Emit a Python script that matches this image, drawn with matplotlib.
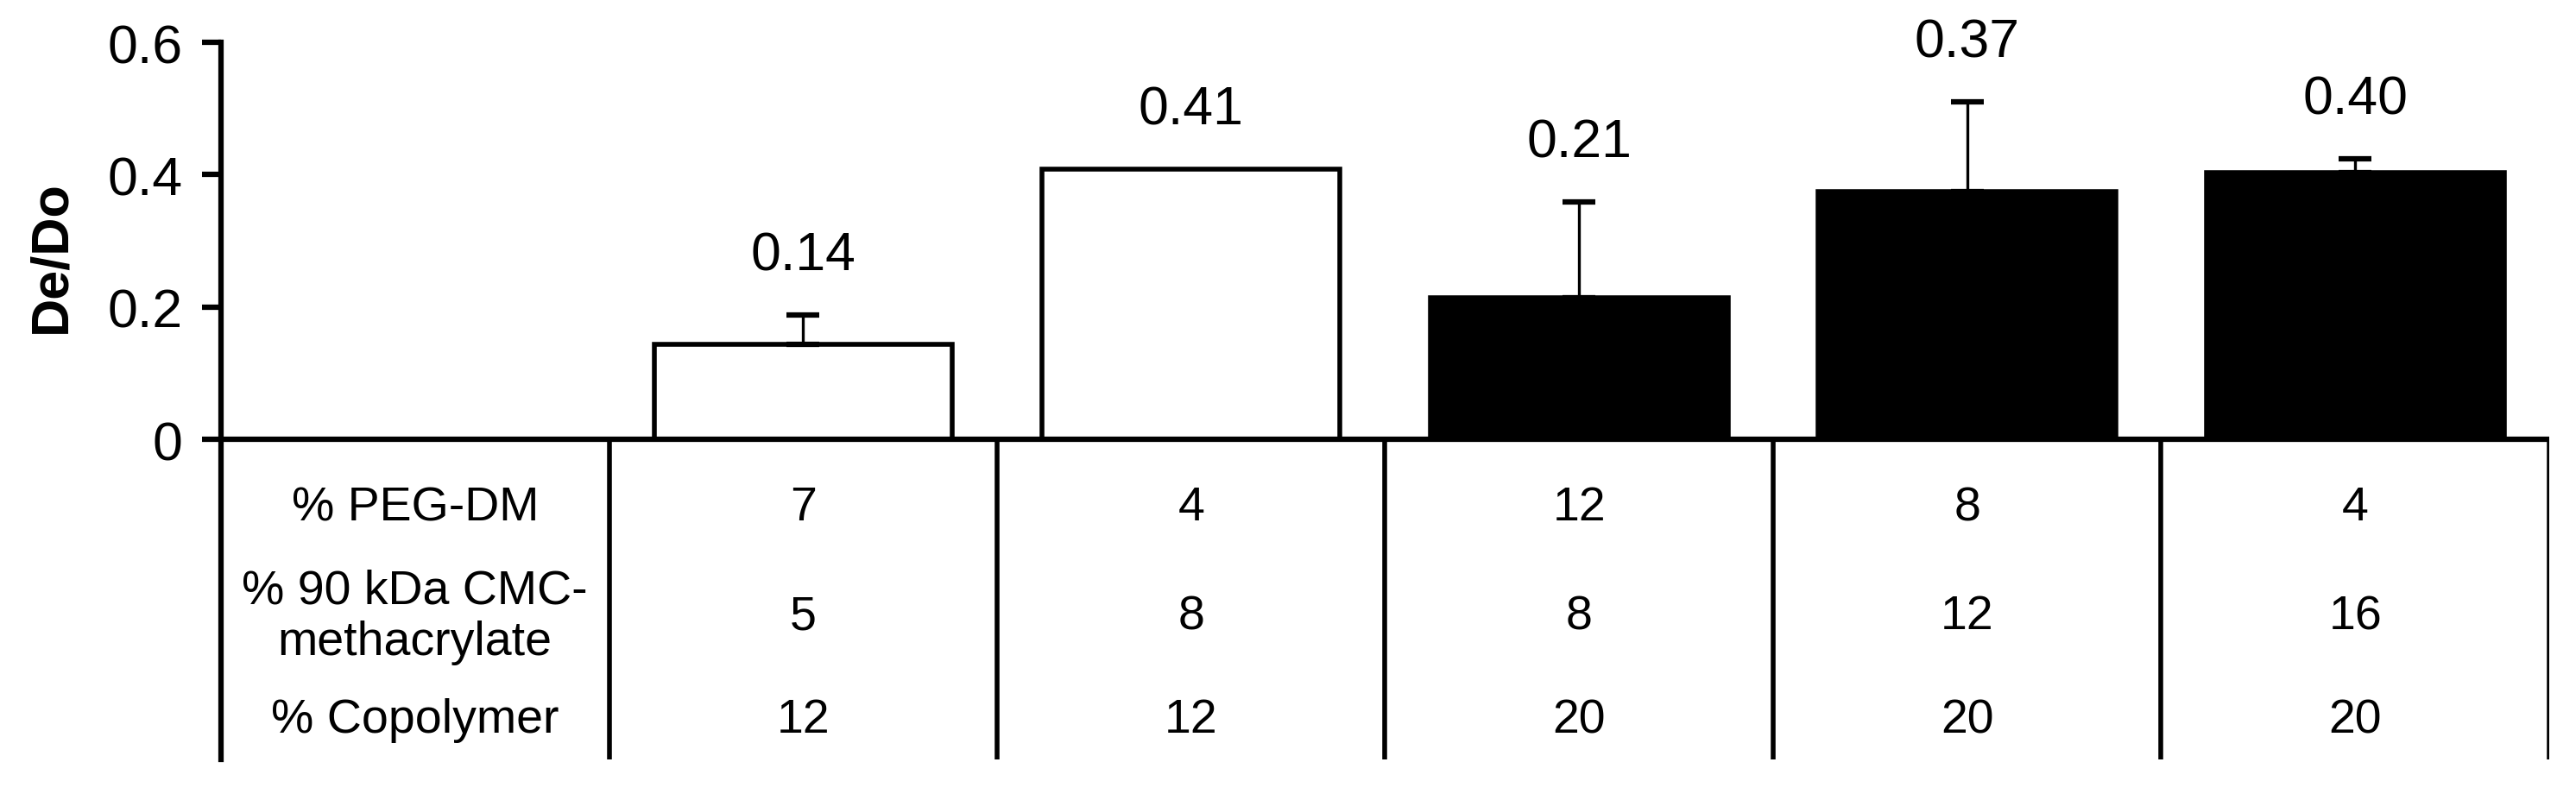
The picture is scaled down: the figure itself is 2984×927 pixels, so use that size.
import matplotlib
matplotlib.use("Agg")
import matplotlib.pyplot as plt

plt.rcParams['font.family'] = ['Liberation Sans', 'DejaVu Sans']

# formulations (first column holds the row labels, no bar)
row_labels = ["% PEG-DM", "% 90 kDa CMC-\nmethacrylate", "% Copolymer"]
peg_dm = [7, 4, 12, 8, 4]
cmc_ma = [5, 8, 8, 12, 16]
copolymer = [12, 12, 20, 20, 20]

de_do = [0.144, 0.408, 0.214, 0.374, 0.403]
de_do_err = [0.044, 0.0, 0.145, 0.136, 0.021]
bar_fill = ["white", "white", "black", "black", "black"]

yticks = [0, 0.2, 0.4, 0.6]

FS = 45      # ticks, value labels
FS_TAB = 40  # table text
LW = 4.0
YMIN = -0.483

fig = plt.figure(figsize=(29.84, 9.28), dpi=100)
ax = fig.add_axes([0.0858, 0.0506, 0.9038, 0.8955])

x = list(range(1, len(de_do) + 1))
ax.bar(x, de_do, width=0.767, color=bar_fill, edgecolor="black", linewidth=LW, zorder=2)

# plus-only error bars, skip the ones with no error
ex = [xi for xi, e in zip(x, de_do_err) if e > 0]
ey = [v for v, e in zip(de_do, de_do_err) if e > 0]
ee = [e for e in de_do_err if e > 0]
ax.errorbar(ex, ey, yerr=[[0] * len(ee), ee], fmt="none", ecolor="black",
            elinewidth=2.4, capsize=13.5, capthick=4.5, zorder=3)

# value labels above bars / error bars
for xi, v, e in zip(x, de_do, de_do_err):
    ax.text(xi, v + e + 0.09, f"{v:.2f}", ha="center", va="center", fontsize=FS)

ax.set_xlim(-0.5, 5.5)
ax.set_ylim(YMIN, 0.6)
ax.set_yticks(yticks)
ax.set_yticklabels(["0", "0.2", "0.4", "0.6"])
ax.tick_params(axis="y", length=16, width=LW + 0.5, labelsize=FS, pad=16)
ax.set_xticks([])

for s in ["top", "right", "bottom"]:
    ax.spines[s].set_visible(False)
ax.spines["left"].set_linewidth(LW + 0.5)

ax.set_ylabel("De/Do", fontsize=44, fontweight="bold", va="center")
ax.yaxis.set_label_coords(-0.0729, 0.7016)

# category axis and table separators
ax.axhline(0, color="black", linewidth=LW + 0.5, zorder=4)
ax.vlines([i + 0.5 for i in range(6)], YMIN, 0, color="black", linewidth=LW)

# table below the axis
row_y = [-0.103, -0.267, -0.423]
for ry, lab in zip(row_y, row_labels):
    ax.text(0, ry, lab, ha="center", va="center", fontsize=FS_TAB, linespacing=1.2)
for xi, a, b, c in zip(x, peg_dm, cmc_ma, copolymer):
    for ry, val in zip(row_y, (a, b, c)):
        ax.text(xi, ry, str(val), ha="center", va="center", fontsize=FS_TAB)

fig.savefig("out.png", dpi=100)
